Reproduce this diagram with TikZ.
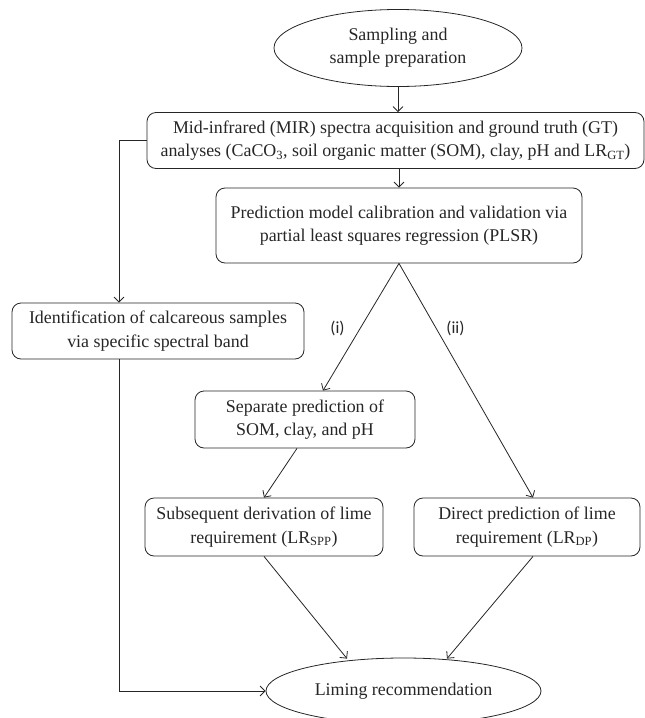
\documentclass[tikz,border=0pt]{standalone}
\usepackage{fontspec}
\setmainfont{Liberation Serif}
\newfontfamily\labfont{Carlito}
\usetikzlibrary{shapes.geometric,arrows.meta}
\begin{document}
\begin{tikzpicture}[x=1pt,y=-1pt,
  every node/.style={text=black!85},
  box/.style={draw=black!85, line width=0.8pt, rounded corners=9pt, align=center, inner sep=0pt,
    font=\fontsize{17.9}{23.3}\selectfont},
  oval/.style={draw=black!85, line width=0.8pt, ellipse, align=center, inner sep=0pt,
    font=\fontsize{17.9}{23.3}\selectfont},
  arr/.style={draw=black!85, line width=0.8pt, -{Straight Barb[length=5pt,width=10pt]}},
  lab/.style={font=\labfont\fontsize{17}{20}\selectfont},
]
\useasboundingbox (0,0) rectangle (645,718);

\node[oval, minimum width=248, minimum height=77] (sample) at (398,48) {Sampling and\\sample preparation};
\node[box, minimum width=497, minimum height=56] (mir) at (395.5,140.5)
  {Mid-infrared (MIR) spectra acquisition and ground truth (GT)\\analyses (CaCO\textsubscript{3}, soil organic matter (SOM), clay, pH and LR\textsubscript{GT})};
\node[box, minimum width=366, minimum height=75] (plsr) at (399,225.5)
  {Prediction model calibration and validation via\\partial least squares regression (PLSR)};
\node[box, minimum width=292, minimum height=56] (ident) at (158,331)
  {Identification of calcareous samples\\via specific spectral band};
\node[box, minimum width=220, minimum height=57] (sep) at (305,419.5)
  {Separate prediction of\\SOM, clay, and pH};
\node[box, minimum width=238, minimum height=58] (subs) at (264,527)
  {Subsequent derivation of lime\\requirement (LR\textsubscript{SPP})};
\node[box, minimum width=226, minimum height=58] (direct) at (527,527)
  {Direct prediction of lime\\requirement (LR\textsubscript{DP})};
\node[oval, minimum width=275, minimum height=66] (lim) at (403.5,691) {Liming recommendation};

\node[lab] (li) at (337.5,328) {(i)};
\node[lab] (lii) at (455.5,328) {(ii)};

\coordinate (lx) at (119,0);

\draw[arr] (sample.south) -- (sample.south |- mir.north);
\draw[arr] (plsr.north |- mir.south) -- (plsr.north);
\draw[arr] (mir.west) -| (lx |- ident.north);
\draw[arr] (lx |- ident.south) |- (lim.west);
\draw[arr] (plsr.south) -- ([xshift=18pt]sep.north);
\draw[arr] (plsr.south) -- ([xshift=6pt]direct.north);
\draw[arr] ([xshift=-8pt]sep.south) -- (subs.north);
\draw[arr] (subs.south) -- ([xshift=-56.5pt,yshift=-1pt]lim.north);
\draw[arr] ([xshift=6pt]direct.south) -- ([xshift=43.5pt,yshift=-1pt]lim.north);
\end{tikzpicture}
\end{document}
